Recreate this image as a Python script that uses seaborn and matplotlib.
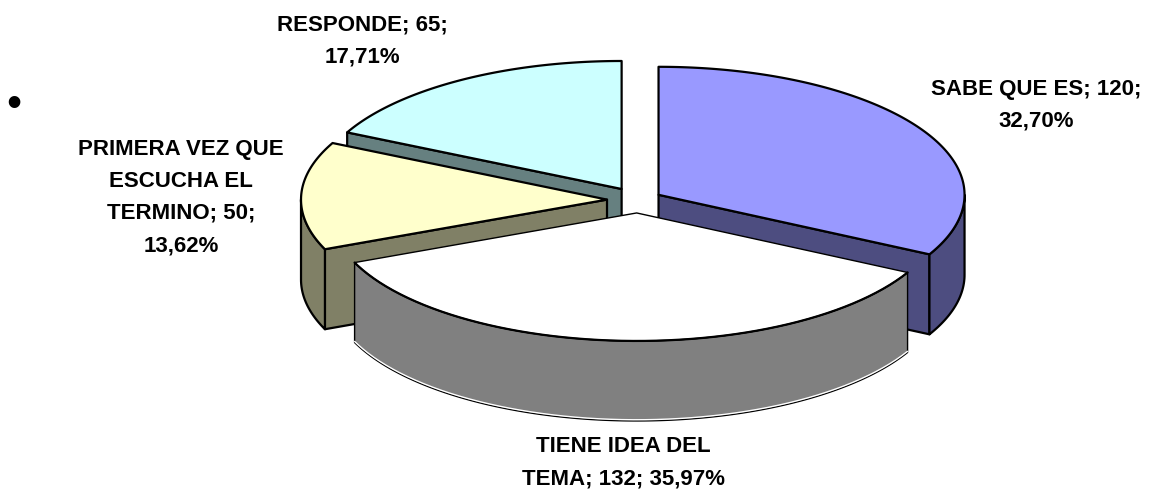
import numpy as np
import seaborn as sns
import matplotlib.pyplot as plt
from matplotlib.patches import Polygon

# datos del grafico
categorias = ['SABE QUE ES', 'TIENE IDEA DEL TEMA', 'PRIMERA VEZ QUE ESCUCHA EL TERMINO', 'RESPONDE']
valores = [120, 132, 50, 65]
colores = ['#9999FF', '#FFFFFF', '#FFFFCC', '#CCFFFF']

# geometria de la torta en pixeles
cx, cy = 638, 200
rx, ry = 306, 128
prof = 80
explode = [24, 31, 31, 31]

# saltos de linea y centro de cada etiqueta
saltos = [[17], [14], [15, 26, 39], [13]]
pos_etiquetas = [(1036, 89), (623, 447), (181, 149), (362, 25)]
interlinea = 32.2

sns.set_theme(style='white')
plt.rcParams['font.family'] = ['Liberation Sans', 'DejaVu Sans']
paleta = sns.color_palette(colores)

fig = plt.figure(figsize=(11.55, 4.93), dpi=100)
ax = fig.add_axes([0, 0, 1, 1])
ax.set_xlim(0, 1155)
ax.set_ylim(493, 0)
ax.axis('off')


def punto(theta, x0, y0):
    return x0 + rx * np.sin(theta), y0 - ry * np.cos(theta)


def arco(a, b, x0, y0):
    t = np.linspace(a, b, max(int(abs(b - a) * 80), 2))
    return np.column_stack(punto(t, x0, y0))


def pared(xy, color, lw=1.6, z=1):
    ax.add_patch(Polygon(xy, closed=True, facecolor=color, edgecolor='black', lw=lw, joinstyle='round', zorder=z))


fracs = np.array(valores) / sum(valores)
fin = np.cumsum(fracs) * 2 * np.pi
ini = fin - fracs * 2 * np.pi
medio = (ini + fin) / 2

# de atras hacia adelante
orden = np.argsort(-np.cos(medio))
for z, i in enumerate(orden):
    x0 = cx + explode[i] * np.sin(medio[i])
    y0 = cy - explode[i] * ry / rx * np.cos(medio[i])
    base = paleta[i]
    lado = tuple(c * 0.5 for c in base)
    abajo = np.array([0, prof])
    lw = 1.0 if i == 1 else 1.6

    # caras de corte que se ven
    for ang, visible in [(ini[i], -np.sin(ini[i]) > 0.01), (fin[i], np.sin(fin[i]) > 0.01)]:
        if visible:
            p = np.array(punto(ang, x0, y0))
            a = np.array([x0, y0])
            pared([a, p, p + abajo, a + abajo], lado, lw, z)

    # pared exterior, solo la mitad de adelante
    a, b = max(ini[i], np.pi / 2), min(fin[i], 3 * np.pi / 2)
    if b > a:
        borde = arco(a, b, x0, y0)
        pared(np.vstack([borde, (borde + abajo)[::-1]]), lado, lw, z)
        if i == 1:
            ax.plot(*(borde + abajo - [0, 1.2]).T, color='white', lw=1.0, zorder=z)

    # tapa
    tapa = np.vstack([[x0, y0], arco(ini[i], fin[i], x0, y0)])
    pared(tapa, base, 1.6 if i != 1 else 1.0, z)
    if i == 1:
        ax.plot(*arco(ini[i], fin[i], x0, y0).T, color='black', lw=1.6, zorder=z)

# etiquetas: nombre; valor; porcentaje
for i in range(len(valores)):
    pct = f'{fracs[i] * 100:.2f}'.replace('.', ',')
    texto = f'{categorias[i]}; {valores[i]}; {pct}%'
    cortes = [0] + saltos[i] + [len(texto)]
    lineas = [texto[p:q].strip() for p, q in zip(cortes[:-1], cortes[1:])]
    x, y = pos_etiquetas[i]
    for k, linea in enumerate(lineas):
        ax.text(x, y + k * interlinea, linea, ha='center', va='center', fontsize=16,
                fontweight='bold', color='black', zorder=20)

ax.text(14, 105, '•', ha='center', va='center', fontsize=31, color='black')

fig.savefig('out.png', dpi=100)
